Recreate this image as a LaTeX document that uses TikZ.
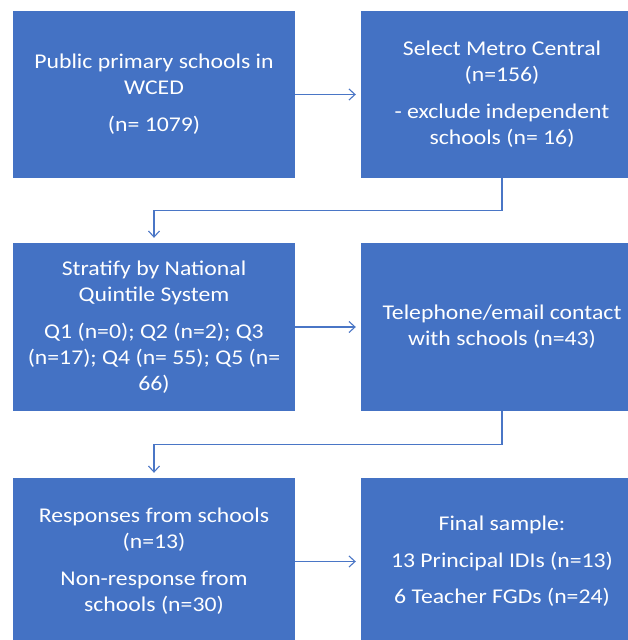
\documentclass[tikz,border=0pt]{standalone}
\usepackage{fontspec}
\setmainfont{Carlito}[FakeStretch=1.13]
\usetikzlibrary{arrows.meta}
\definecolor{boxblue}{HTML}{4472C4}
\definecolor{lineblue}{HTML}{4A76C6}
\begin{document}
\begin{tikzpicture}[x=1pt,y=-1pt,
  flowbox/.style={rectangle, fill=boxblue, draw=none, minimum width=282pt, minimum height=167pt,
    text=white, align=center, inner sep=0pt, font=\fontsize{21}{26}\selectfont},
  conn/.style={draw=lineblue, line width=1.1pt, -{Straight Barb[length=6pt,width=11pt,line width=1.1pt]}, shorten >=5pt}]
\useasboundingbox (0,0) rectangle (628,640);
\clip (0,0) rectangle (628,640);
\fill[white] (0,0) rectangle (628,640);
\node[flowbox] (A) at (154,94.5) {Public primary schools in\\ WCED\\[11pt] (n= 1079)};
\node[flowbox] (B) at (502,94.5) {Select Metro Central\\ (n=156)\\[11pt] - exclude independent\\ schools (n= 16)};
\node[flowbox, minimum height=168pt] (C) at (154,327) {Stratify by National\\ Quintile System\\[11pt] Q1 (n=0); Q2 (n=2); Q3\\ (n=17); Q4 (n= 55); Q5 (n=\\ 66)};
\node[flowbox, minimum height=168pt] (D) at (502,327) {Telephone/email contact\\ with schools (n=43)};
\node[flowbox] (E) at (154,561.5) {Responses from schools\\ (n=13)\\[11pt] Non-response from\\ schools (n=30)};
\node[flowbox] (F) at (502,561.5) {Final sample:\\[10.5pt] 13 Principal IDIs (n=13)\\[10.5pt] 6 Teacher FGDs (n=24)};
\coordinate (j1) at (154,210.5);
\coordinate (j2) at (154,444.5);
\draw[conn] (A.east) -- (B.west);
\draw[conn] (C.east) -- (D.west);
\draw[conn] (E.east) -- (F.west);
\draw[conn] (B.south) |- (j1) -- (C.north);
\draw[conn] (D.south) |- (j2) -- (E.north);
\end{tikzpicture}
\end{document}
